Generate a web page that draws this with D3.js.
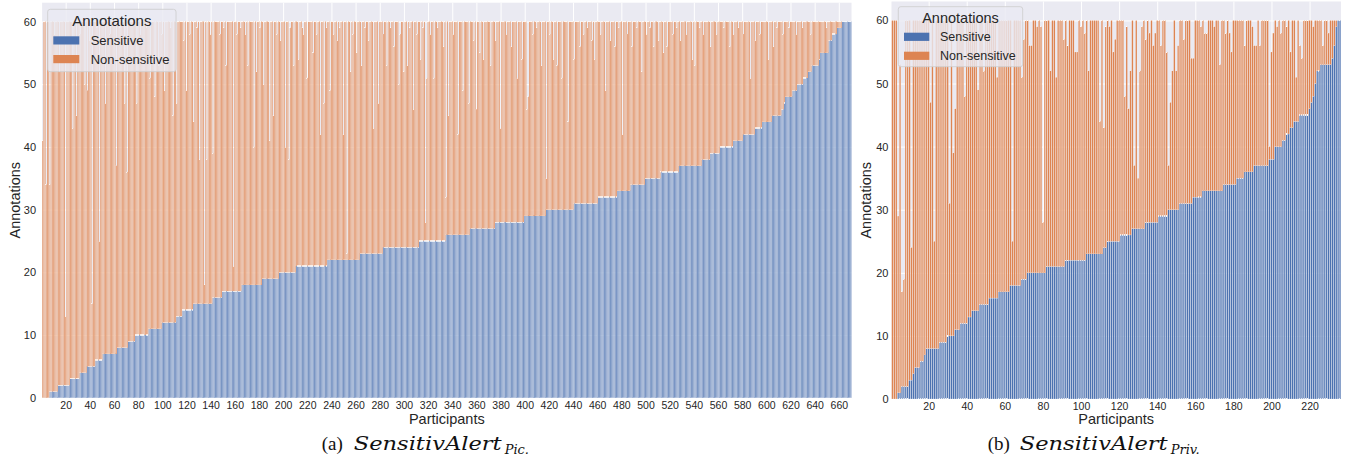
<!DOCTYPE html>
<html lang="en">
<head>
<meta charset="UTF-8">
<title>Annotations per participant</title>
<script src="https://cdn.jsdelivr.net/npm/d3@7"></script>
<style>
  body { margin: 0; background: #fff; }
  svg { display: block; }
  .axis text { font-family: "Liberation Sans", Arial, sans-serif; fill: #262626; }
  .axis line { stroke: #fff; stroke-width: 1; }
  .label { font-family: "Liberation Sans", Arial, sans-serif; fill: #262626; }
  .cap { font-family: "Liberation Serif", serif; fill: #111; }
  .math { font-family: "DejaVu Serif", serif; font-style: italic; fill: #111; }
</style>
</head>
<body>
<svg id="chart" width="1351" height="468"></svg>
<script>
// sensitive annotations per participant, sorted ascending, stored as runs (level, how many bars)
var sensLevelsA = [0,1,2,3,4,5,6,7,8,9,10,11,12,13,14,15,16,17,18,19,20,21,22,23,24,25,26,27,28,29,
                   30,31,32,33,34,35,36,37,38,39,40,41,42,43,44,45,46,47,48,49,50,51,52,53,54,55,57,58,59,60];
var sensRunsA  = [6,7,10,8,6,7,6,12,9,6,11,11,12,5,9,16,8,16,17,14,14,26,27,19,30,22,20,21,24,18,
                  23,20,16,11,12,13,15,19,7,8,11,8,10,6,8,8,2,1,6,4,5,4,3,6,1,7,3,4,4,8];

var sensLevelsB = [0,1,2,3,4,5,6,7,8,9,10,11,12,13,14,15,16,17,18,19,20,21,22,23,24,25,26,27,28,29,
                   30,31,32,33,34,35,36,37,38,40,41,42,43,44,45,46,47,48,50,52,53,54,56,59,60];
var sensRunsB  = [3,2,4,2,1,3,2,1,7,4,4,3,4,2,4,5,5,6,6,3,10,10,11,9,2,7,6,7,7,5,
                  6,7,5,11,7,4,5,8,3,4,2,2,2,3,5,1,1,1,1,2,6,1,1,1,2];

// most participants annotated all 60 items; these are the ones that stopped earlier [participant, total]
var fullTotal = 60;
var shortBarsA = [[1,41],[4,34],[7,34],[11,58],[15,52],[20,13],[26,43],[29,45],[32,58],[36,50],[38,49],[40,57],
  [42,15],[46,59],[48,25],[53,47],[57,58],[62,37],[65,59],[69,47],[71,36],[79,47],[82,58],[87,59],[90,51],[94,48],
  [97,53],[100,58],[102,49],[107,59],[109,45],[112,47],[118,57],[120,49],[123,58],[126,44],[129,59],[131,38],
  [135,18],[137,38],[140,58],[142,39],[148,58],[151,59],[153,53],[159,21],[162,58],[165,59],[169,58],[171,53],
  [176,40],[178,52],[181,59],[184,50],[189,41],[192,45],[195,58],[198,57],[202,40],[205,38],[206,59],[209,53],
  [213,54],[216,59],[217,58],[220,51],[225,55],[228,58],[231,42],[234,47],[236,59],[239,49],[242,58],[245,57],
  [247,59],[250,42],[253,23],[256,52],[258,58],[261,55],[265,53],[268,59],[271,57],[275,43],[279,47],[283,58],
  [286,53],[289,59],[292,56],[296,50],[297,58],[300,52],[303,53],[305,59],[308,46],[311,58],[314,54],[316,59],
  [318,28],[319,51],[322,58],[325,51],[328,59],[333,56],[335,32],[337,45],[341,58],[345,42],[349,49],[354,47],
  [358,57],[360,46],[363,55],[366,54],[372,53],[376,57],[380,43],[385,58],[389,56],[394,51],[398,54],[402,46],
  [403,48],[407,58],[410,59],[414,53],[418,35],[421,58],[424,54],[427,53],[431,51],[436,44],[441,54],[446,56],
  [449,58],[452,59],[456,57],[458,54],[463,58],[467,49],[471,57],[475,56],[478,59],[481,42],[485,58],[489,56],
  [493,59],[497,52],[501,58],[504,59],[507,56],[511,57],[515,55],[518,56],[523,58],[526,59],[529,57],[534,58],
  [539,54],[541,53],[545,59],[548,58],[554,56],[559,58],[565,59],[570,56],[573,58],[577,59],[581,58],[587,51],
  [591,57],[595,58],[602,54],[606,56],[609,59],[614,58],[619,59],[625,58],[630,59],[637,58],[650,59]];
var shortBarsB = [[4,29],[5,53],[6,17],[7,19],[11,24],[21,47],[23,25],[31,31],[33,39],[34,46],[39,48],[46,49],
  [49,52],[56,51],[64,25],[69,51],[70,57],[73,56],[74,56],[77,59],[79,59],[80,28],[84,52],[87,51],[91,57],
  [93,56],[97,55],[98,55],[100,59],[102,58],[104,52],[110,44],[112,43],[113,59],[115,59],[117,55],[118,57],
  [123,48],[124,59],[125,46],[126,52],[128,37],[130,35],[131,52],[132,59],[134,57],[136,58],[138,56],[139,58],
  [142,56],[145,55],[146,37],[147,47],[148,52],[150,52],[151,56],[154,57],[158,54],[159,54],[163,59],[165,58],
  [166,58],[170,59],[173,53],[176,58],[178,58],[179,55],[186,56],[190,59],[191,56],[192,56],[194,56],[199,40],
  [200,55],[201,58],[203,59],[205,58],[208,59],[210,55],[213,51],[215,56],[216,54],[222,59],[227,56],[230,58]];

var xTicksA = [20,40,60,80,100,120,140,160,180,200,220,240,260,280,300,320,340,360,380,400,420,440,460,480,
               500,520,540,560,580,600,620,640,660];
var xTicksB = [20,40,60,80,100,120,140,160,180,200,220];
var yTicks = [0,10,20,30,40,50,60];
var seriesNames = ["Sensitive", "Non-sensitive"];
var colors = ["#4C72B0", "#DD8452"];

var svg = d3.select("#chart");

function buildRows(levels, runs, shorts) {
  var totals = new Map(shorts);
  var rows = [], p = 1;
  levels.forEach(function (v, i) {
    for (var k = 0; k < runs[i]; k++) {
      var t = totals.has(p) ? totals.get(p) : fullTotal;
      rows.push({ p: p, "Sensitive": v, "Non-sensitive": Math.max(0, t - v) });
      p++;
    }
  });
  return rows;
}

function drawPanel(cfg) {
  var rows = buildRows(cfg.levels, cfg.runs, cfg.shorts);
  var n = rows.length;
  var w = cfg.right - cfg.left, h = cfg.bottom - cfg.top;

  var x = d3.scaleLinear().domain([0.5, n + 0.5]).range([0, w]);
  var y = d3.scaleLinear().domain([0, 63]).range([h, 0]);

  var g = svg.append("g").attr("transform", "translate(" + cfg.left + "," + cfg.top + ")");
  g.append("rect").attr("width", w).attr("height", h).attr("fill", "#EAEAF2");

  // grid + tick labels
  var xa = g.append("g").attr("class", "axis").attr("transform", "translate(0," + h + ")")
    .call(d3.axisBottom(x).tickValues(cfg.xTicks).tickSize(-h).tickPadding(4));
  xa.select(".domain").remove();
  xa.selectAll("text").style("font-size", "10.5px");

  var ya = g.append("g").attr("class", "axis")
    .call(d3.axisLeft(y).tickValues(yTicks).tickSize(-w).tickPadding(cfg.yPad));
  ya.select(".domain").remove();
  ya.selectAll("text").style("font-size", "11px");

  var stacked = d3.stack().keys(seriesNames)(rows);
  g.selectAll(".series").data(stacked).enter().append("g")
    .attr("fill", function (d, i) { return colors[i]; })
    .selectAll("rect").data(function (d) { return d; }).enter().append("rect")
    .attr("x", function (d) { return x(d.data.p - 0.4); })
    .attr("width", function (d) { return x(d.data.p + 0.4) - x(d.data.p - 0.4); })
    .attr("y", function (d) { return y(d[1]); })
    .attr("height", function (d) { return y(d[0]) - y(d[1]); })
    .attr("stroke", "#fff").attr("stroke-width", 0.22);

  // axis titles
  svg.append("text").attr("class", "label").attr("x", cfg.left + w / 2).attr("y", 424)
    .attr("text-anchor", "middle").style("font-size", "14.5px").text("Participants");
  svg.append("text").attr("class", "label")
    .attr("transform", "translate(" + cfg.yLabelX + "," + (cfg.top + h / 2) + ") rotate(-90)")
    .attr("text-anchor", "middle").style("font-size", "14.5px").text("Annotations");

  // legend
  var L = cfg.legend;
  var lg = svg.append("g").attr("transform", "translate(" + L.x + "," + L.y + ")");
  lg.append("rect").attr("width", L.w).attr("height", L.h).attr("rx", 2.5)
    .attr("fill", "#EAEAF2").attr("fill-opacity", 0.8).attr("stroke", "#cccccc").attr("stroke-width", 0.8);
  lg.append("text").attr("class", "label").attr("x", L.w / 2).attr("y", L.titleY)
    .attr("text-anchor", "middle").style("font-size", L.titleSize + "px").text("Annotations");
  seriesNames.forEach(function (name, i) {
    lg.append("rect").attr("x", L.patchX).attr("y", L.rowY[i]).attr("width", L.patchW).attr("height", 8.2)
      .attr("fill", colors[i]);
    lg.append("text").attr("class", "label").attr("x", L.textX).attr("y", L.rowY[i] + 8.6)
      .style("font-size", L.textSize + "px").text(name);
  });

  // caption
  var C = cfg.caption;
  svg.append("text").attr("class", "cap").attr("x", C.x).attr("y", 450)
    .style("font-size", "19px").text(C.tag);
  svg.append("text").attr("class", "math").attr("x", C.x + 32).attr("y", 450)
    .attr("textLength", 148).attr("lengthAdjust", "spacingAndGlyphs")
    .style("font-size", "19px").text("SensitivAlert");
  svg.append("text").attr("class", "math").attr("x", C.x + 183).attr("y", 454)
    .style("font-size", "13px").text(C.sub);
}

drawPanel({
  levels: sensLevelsA, runs: sensRunsA, shorts: shortBarsA, xTicks: xTicksA,
  left: 42.1, right: 851.5, top: 2.7, bottom: 397.7, yPad: 6, yLabelX: 19.5,
  legend: { x: 47.7, y: 9.3, w: 128.3, h: 62.4, titleY: 16.5, titleSize: 15,
            patchX: 5.6, patchW: 26, textX: 43, textSize: 13, rowY: [27, 45.7] },
  caption: { x: 321.7, tag: "(a)", sub: "Pic." }
});

drawPanel({
  levels: sensLevelsB, runs: sensRunsB, shorts: shortBarsB, xTicks: xTicksB,
  left: 891.5, right: 1341, top: 1.5, bottom: 399, yPad: 3, yLabelX: 871,
  legend: { x: 898.3, y: 6.7, w: 124.4, h: 60, titleY: 16, titleSize: 14.5,
            patchX: 5.7, patchW: 25.3, textX: 41.7, textSize: 12.5, rowY: [26, 45] },
  caption: { x: 987.7, tag: "(b)", sub: "Priv." }
});
</script>
</body>
</html>
